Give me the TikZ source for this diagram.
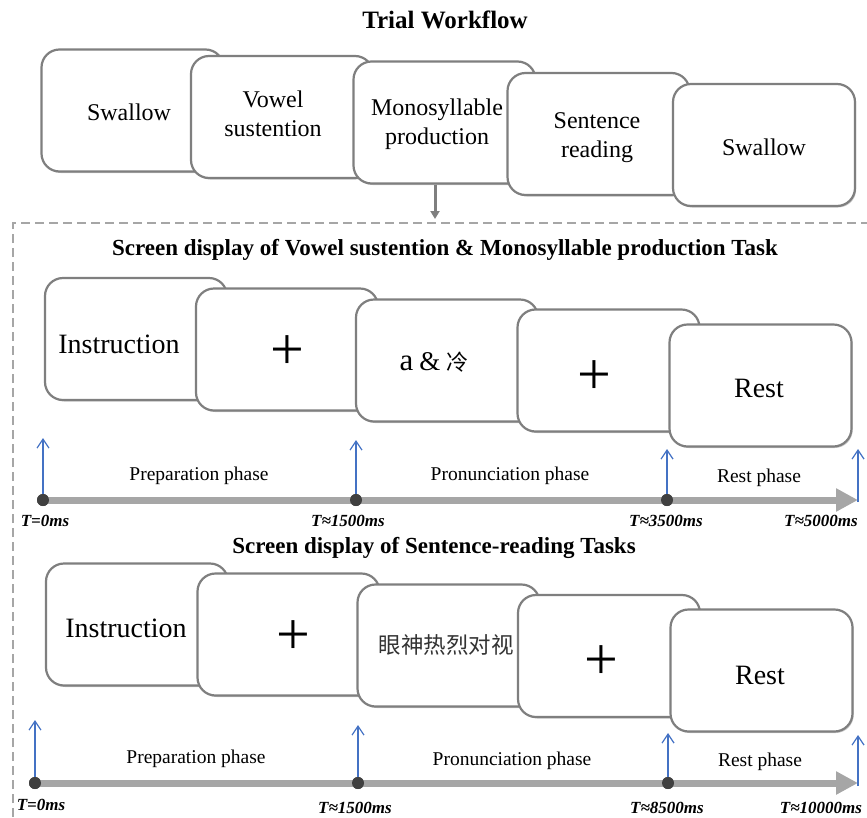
\documentclass[tikz,border=0pt]{standalone}
\usepackage{fontspec}
\setmainfont{Liberation Serif}
\newfontfamily\cjk{Noto Sans CJK SC}
\usetikzlibrary{arrows.meta,shadows}
\definecolor{boxborder}{HTML}{7F7F7F}
\definecolor{tlgray}{HTML}{A6A6A6}
\definecolor{dotc}{HTML}{404040}
\definecolor{tblue}{HTML}{4472C4}
\definecolor{dashc}{HTML}{A6A6A6}
\tikzset{
  scrbox/.style={draw=boxborder, line width=2.2pt, fill=white, rounded corners=18pt,
     minimum width=182pt, minimum height=122pt, inner sep=0pt,
     drop shadow={shadow xshift=1.2pt, shadow yshift=-1.5pt, fill=black!45, opacity=0.45}},
  boxtxt/.style={inner sep=0pt, align=center, font=\fontsize{24}{29}\selectfont},
  bigtxt/.style={inner sep=0pt, align=center, font=\fontsize{28}{32}\selectfont},
  plustxt/.style={inner sep=0pt, font=\fontsize{60}{60}\selectfont},
  titletxt/.style={inner sep=0pt, font=\bfseries\fontsize{23}{26}\selectfont},
  phasetxt/.style={inner sep=0pt, font=\fontsize{19.5}{22}\selectfont},
  timetxt/.style={inner sep=0pt, font=\bfseries\itshape\fontsize{17}{19}\selectfont},
  tldot/.style={circle, fill=dotc, minimum size=12pt, inner sep=0pt},
  timeline/.style={draw=tlgray, line width=7pt, -{Triangle[length=22pt,width=22pt]}},
  bluearr/.style={draw=tblue, line width=1.2pt, -{Straight Barb[length=9pt,width=12pt]}},
  grayarr/.style={draw=boxborder, line width=3pt, -{Triangle[length=8pt,width=9pt]}},
  dashbox/.style={draw=dashc, line width=2pt, dash pattern=on 9pt off 5pt}
}
\begin{document}
\begin{tikzpicture}[x=1pt,y=-1pt]
\useasboundingbox (0,0) rectangle (867,817);
% ---------- Trial workflow ----------
\node[inner sep=0pt, font=\bfseries\fontsize{25}{28}\selectfont] (title) at (445,20) {Trial Workflow};
\node[scrbox] (b1) at (132.5,110.5) {};
\node[scrbox] (b2) at (282,117) {};
\node[scrbox] (b3) at (444.5,122.5) {};
\node[scrbox] (b4) at (598.5,134) {};
\node[scrbox] (b5) at (764,145) {};
\node[boxtxt] (t1) at (129,112) {Swallow};
\node[boxtxt] (t2) at (273,114) {Vowel\\sustention};
\node[boxtxt] (t3) at (437,124) {Monosyllable\\production};
\node[boxtxt] (t4) at (597,138) {Sentence\\reading};
\node[boxtxt] (t5) at (764,147) {Swallow};
% dashed frame and arrow
\coordinate (dA) at (13,817);
\coordinate (dB) at (13,223);
\coordinate (dC) at (867,223);
\draw[dashbox] (dA) -- (dB) -- (dC);
\coordinate (arrEnd) at (435,219);
\draw[grayarr] ([xshift=-9.5pt]b3.south) -- (arrEnd);
% ---------- Section 2 ----------
\node[titletxt] (title2) at (445,250) {Screen display of Vowel sustention \& Monosyllable production Task};
\node[scrbox] (s1) at (136,339) {};
\node[scrbox] (s2) at (287,349.5) {};
\node[scrbox] (s3) at (447,360.5) {};
\node[scrbox] (s4) at (608.5,370.5) {};
\node[scrbox] (s5) at (760.5,385.5) {};
\node[bigtxt] (u1) at (119,344) {Instruction};
\node[plustxt] (u2) at (287,353) {+};
\node[inner sep=0pt] (u3) at (434,362) {{\fontsize{31}{32}\selectfont a}\hspace{6pt}{\fontsize{27}{28}\selectfont\&}\hspace{6pt}{\cjk\fontsize{22}{24}\selectfont 冷}};
\node[plustxt] (u4) at (594,378) {+};
\node[bigtxt] (u5) at (759,388) {Rest};
% timeline 1
\node[tldot] (d1) at (43,500) {};
\node[tldot] (d2) at (356,500) {};
\node[tldot] (d3) at (667,500) {};
\coordinate (e1) at (858,500);
\coordinate (a1) at (43,438);
\coordinate (a2) at (356,440);
\coordinate (a3) at (667,449);
\coordinate (a4b) at (858,502);
\coordinate (a4) at (858,449);
\draw[timeline] (d1.center) -- (e1);
\draw[bluearr] (d1.center) -- (a1);
\draw[bluearr] (d2.center) -- (a2);
\draw[bluearr] (d3.center) -- (a3);
\draw[bluearr] (a4b) -- (a4);
\node[tldot] at (d1) {};
\node[tldot] at (d2) {};
\node[tldot] at (d3) {};
\node[phasetxt] (p1) at (199,476) {Preparation phase};
\node[phasetxt] (p2) at (510,476) {Pronunciation phase};
\node[phasetxt] (p3) at (759,478) {Rest phase};
\node[timetxt] (m1) at (45,521) {T=0ms};
\node[timetxt] (m2) at (348,521) {T≈1500ms};
\node[timetxt] (m3) at (666,521) {T≈3500ms};
\node[timetxt] (m4) at (821,521) {T≈5000ms};
% ---------- Section 3 ----------
\node[titletxt] (title3) at (434,548) {Screen display of Sentence-reading Tasks};
\node[scrbox] (r1) at (137,624.5) {};
\node[scrbox] (r2) at (288.5,634.5) {};
\node[scrbox] (r3) at (448.5,645.5) {};
\node[scrbox] (r4) at (609,656) {};
\node[scrbox] (r5) at (761.5,670.5) {};
\node[bigtxt] (v1) at (126,628) {Instruction};
\node[plustxt] (v2) at (293,638) {+};
\node[inner sep=0pt, font=\cjk\fontsize{22.5}{26}\selectfont, text=black!80] (v3) at (446,645) {眼神热烈对视};
\node[plustxt] (v4) at (601,663) {+};
\node[bigtxt] (v5) at (760,675) {Rest};
% timeline 2
\node[tldot] (f1) at (35,783) {};
\node[tldot] (f2) at (358,783) {};
\node[tldot] (f3) at (668,783) {};
\coordinate (e2) at (858,783);
\coordinate (c1) at (35,720);
\coordinate (c2) at (358,725);
\coordinate (c3) at (668,733);
\coordinate (c4b) at (858,786);
\coordinate (c4) at (858,735);
\draw[timeline] (f1.center) -- (e2);
\draw[bluearr] (f1.center) -- (c1);
\draw[bluearr] (f2.center) -- (c2);
\draw[bluearr] (f3.center) -- (c3);
\draw[bluearr] (c4b) -- (c4);
\node[tldot] at (f1) {};
\node[tldot] at (f2) {};
\node[tldot] at (f3) {};
\node[phasetxt] (q1) at (196,759) {Preparation phase};
\node[phasetxt] (q2) at (512,761) {Pronunciation phase};
\node[phasetxt] (q3) at (760,762) {Rest phase};
\node[timetxt] (n1) at (41,805) {T=0ms};
\node[timetxt] (n2) at (355,808) {T≈1500ms};
\node[timetxt] (n3) at (667,808) {T≈8500ms};
\node[timetxt] (n4) at (821,808) {T≈10000ms};
\end{tikzpicture}
\end{document}
